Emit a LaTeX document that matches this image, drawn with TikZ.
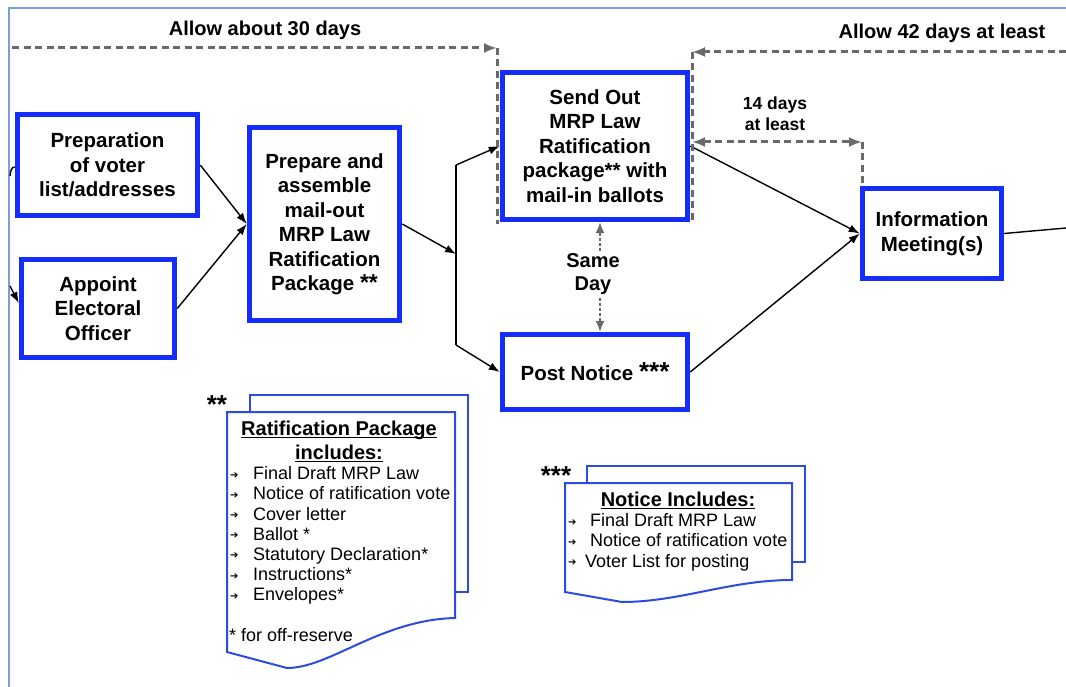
\documentclass[tikz,border=0pt]{standalone}
\usepackage{fontspec}
\setmainfont{Liberation Sans}
\newfontfamily\dvs{DejaVu Sans}
\usetikzlibrary{arrows.meta}
\definecolor{boxblue}{RGB}{20,45,250}
\definecolor{docblue}{RGB}{45,75,225}
\definecolor{framec}{RGB}{120,160,215}
\definecolor{dgray}{RGB}{105,105,105}
\newcommand\bxf{\fontsize{20.5}{24.5}\selectfont\bfseries}
\newcommand\lbf{\fontsize{20}{23}\selectfont\bfseries}
\newcommand\lsf{\fontsize{18}{20.2}\selectfont}
\newcommand\bulw[1]{\makebox[#1][l]{\hspace{1pt}\raisebox{1.5pt}{\dvs\fontsize{10}{10}\selectfont ➔}}}
\newcommand\undl[1]{\setbox0\hbox{#1}\rlap{\rule[-3pt]{\wd0}{1.2pt}}\box0}
\tikzset{
  box/.style={draw=boxblue, line width=5.5pt, fill=white, align=center, font=\bxf, inner sep=0pt},
  flow/.style={-{Latex[length=11pt,width=8pt]}, line width=1.4pt, black},
  plain/.style={line width=1.4pt, black},
  gdash/.style={draw=dgray, line width=3pt, dash pattern=on 7pt off 4.5pt},
  sdash/.style={draw=dgray, line width=1.4pt, dash pattern=on 3pt off 2pt},
  gtip/.tip={Latex[length=13pt,width=10pt]},
  stip/.tip={Latex[length=11pt,width=9pt]},
  lbl/.style={font=\lbf, inner sep=0pt},
  docline/.style={draw=docblue, fill=white, line width=2pt},
}
\begin{document}
\begin{tikzpicture}[x=1pt,y=-1pt]
\useasboundingbox (0,0) rectangle (1066,687);
\fill[white] (0,0) rectangle (1066,687);
\draw[framec, line width=1.2pt] (1066,8) -- (9,8) -- (9,687);

% documents
\filldraw[docline] (250,395) rectangle (468,592);
\filldraw[docline] (227,412) -- (455,412) -- (455,618) .. controls (380,620) and (330,668) .. (287,668) -- (227,652) -- cycle;
\filldraw[docline] (587,466) rectangle (805,562);
\filldraw[docline] (565,483) -- (792,483) -- (792,580) .. controls (730,580) and (680,602) .. (622,602) -- (565,592) -- cycle;

\node[font=\fontsize{26}{26}\selectfont\bfseries, inner sep=0pt] (s2) at (217,405) {**};
\node[font=\fontsize{26}{26}\selectfont\bfseries, inner sep=0pt] (s3) at (556,476) {***};

\node[lbl, anchor=base] (rt1) at (339,435) {\undl{Ratification Package}};
\node[lbl, anchor=base] (rt2) at (339,459) {\undl{includes:}};
\node[font=\lsf, anchor=north west, align=left, inner sep=0pt] (rl) at (229,466.4) {%
\bulw{24pt}Final Draft MRP Law\\
\bulw{24pt}Notice of ratification vote\\
\bulw{24pt}Cover letter\\
\bulw{24pt}Ballot *\\
\bulw{24pt}Statutory Declaration*\\
\bulw{24pt}Instructions*\\
\bulw{24pt}Envelopes*\\[20.2pt]
* for off-reserve};

\node[lbl, anchor=base] (nt) at (678,506) {\undl{Notice Includes:}};
\node[font=\lsf, anchor=north west, align=left, inner sep=0pt] (nl) at (567,513.4) {%
\bulw{23pt}Final Draft MRP Law\\
\bulw{23pt}Notice of ratification vote\\
\bulw{18pt}Voter List for posting};

% boxes
\node[box, minimum width=180pt, minimum height=101pt] (prep) at (107.5,165) {Preparation\\of voter\\list/addresses};
\node[box, minimum width=153pt, minimum height=98pt] (appt) at (98,308.5) {Appoint\\Electoral\\Officer};
\node[box, minimum width=150pt, minimum height=193pt] (pa) at (324.5,224) {Prepare and\\assemble\\mail-out\\MRP Law\\Ratification\\Package {\fontsize{23}{23}\selectfont**}};
\node[box, minimum width=185pt, minimum height=147pt] (send) at (595,146) {Send Out\\MRP Law\\Ratification\\package** with\\mail-in ballots};
\node[box, minimum width=185pt, minimum height=75pt] (post) at (595,372) {Post Notice {\fontsize{26}{26}\selectfont ***}};
\node[box, minimum width=139pt, minimum height=90pt] (info) at (932,233.5) {Information\\Meeting(s)};

% solid connectors
\coordinate (fk) at (456,254);
\coordinate (fkt) at (456,165);
\coordinate (fkb) at (456,345);
\coordinate (rout) at (1066,228);
\coordinate (lin1) at (10,176);
\coordinate (lin2) at (10,286);
\draw[flow] (prep.east) -- (pa.west);
\draw[flow] (appt.east) -- (pa.west);
\draw[flow] (pa.east) -- (fk);
\draw[plain] (fkt) -- (fkb);
\draw[flow] (fkt) -- (send.west);
\draw[flow] (fkb) -- (post.west);
\draw[flow] (send.east) -- (info.west);
\draw[flow] (post.east) -- (info.west);
\draw[plain] (info.east) -- (rout);
\draw[plain] (lin1) to[out=80,in=180] ([yshift=-2pt]prep.west);
\draw[flow] (lin2) -- ([yshift=5.5pt]appt.west);

% dashed timing lines
\coordinate (a30s) at (12,48);
\coordinate (a30e) at (497,48);
\coordinate (a30b) at (497,224);
\coordinate (a42s) at (1066,52);
\coordinate (a42e) at (692,52);
\coordinate (a42b) at (692,222);
\coordinate (d14a) at (692,142);
\coordinate (d14b) at (862,142);
\coordinate (d14c) at (862,186);
\draw[gdash, -gtip] (a30s) -- (a30e);
\draw[gdash] (a30e) -- (a30b);
\draw[gdash, -gtip] (a42s) -- (a42e);
\draw[gdash] (a42e) -- (a42b);
\draw[gdash, gtip-gtip] (d14a) -- (d14b);
\draw[gdash] (d14b) -- (d14c);
\draw[sdash, stip-stip] ([xshift=5pt]send.south) -- ([xshift=5pt]post.north);

% labels
\node[lbl] (t30) at (265,30) {Allow about 30 days};
\node[lbl] (t42) at (942,33) {Allow 42 days at least};
\node[font=\fontsize{17.5}{21}\selectfont\bfseries, align=center, inner sep=0pt] (t14) at (775,114) {14 days\\at least};
\node[lbl, align=center, fill=white, inner sep=1pt] (tsd) at (593,274) {Same\\Day};
\end{tikzpicture}
\end{document}
